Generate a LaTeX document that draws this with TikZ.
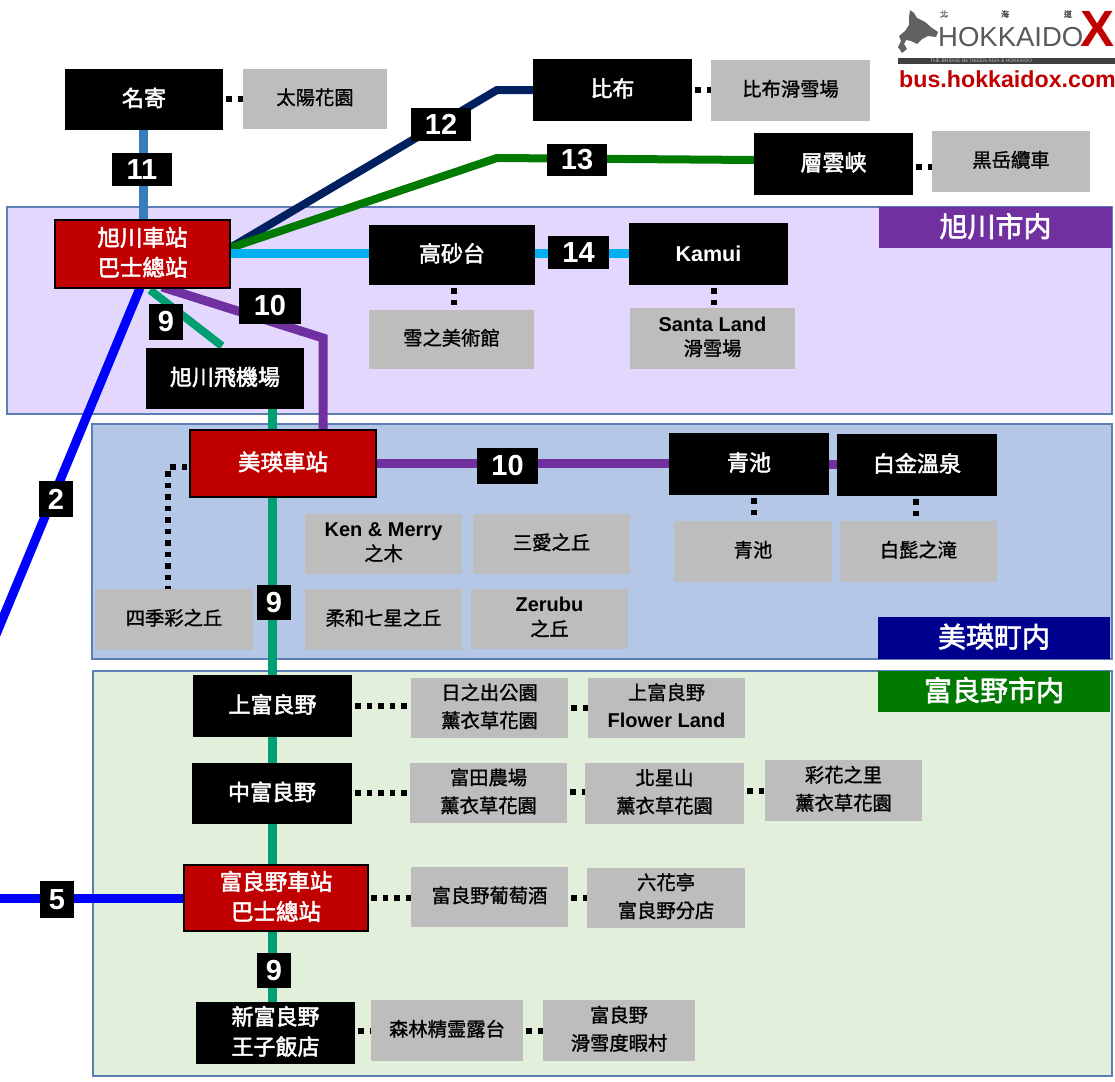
\documentclass[tikz,border=0pt]{standalone}
\usepackage{fontspec}
\setmainfont{Liberation Sans}
\newfontfamily\cj[FakeBold=1.2]{Noto Sans CJK TC}
\newfontfamily\cjw[FakeBold=2.2]{Noto Sans CJK TC}
\usetikzlibrary{calc}
\pgfdeclarelayer{bg}
\pgfdeclarelayer{ln}
\pgfsetlayers{bg,ln,main}
\definecolor{rgPurple}{HTML}{E3D7FE}
\definecolor{rgBlue}{HTML}{B4C7E7}
\definecolor{rgGreen}{HTML}{E2EFDA}
\definecolor{rgEdge}{HTML}{5B7FB5}
\definecolor{stRed}{HTML}{C00000}
\definecolor{grayBox}{HTML}{BDBDBD}
\definecolor{lnPurple}{HTML}{7030A0}
\definecolor{lnNavy}{HTML}{002060}
\definecolor{lnGreen}{HTML}{007A00}
\definecolor{lnSky}{HTML}{00B0F0}
\definecolor{lnSteel}{HTML}{3A7DBD}
\definecolor{lnTeal}{HTML}{009E73}
\definecolor{lnBlue}{HTML}{0000FF}
\definecolor{tagNavy}{HTML}{00008E}
\definecolor{logoRed}{HTML}{C00000}
\tikzset{
  region/.style={draw=rgEdge,line width=1.2pt,inner sep=0pt,outer sep=0pt},
  tagbox/.style={fill=#1,text=white,inner sep=0pt,outer sep=0pt,font=\cjw\fontsize{28}{30}\selectfont},
  blk/.style={fill=black,text=white,inner sep=0pt,outer sep=0pt,align=center,font=\cjw\fontsize{22}{30}\selectfont},
  redb/.style={fill=stRed,draw=black,line width=1.4pt,text=white,inner sep=0pt,outer sep=0pt,align=center,font=\cjw\fontsize{22.5}{30}\selectfont},
  gry/.style={fill=grayBox,text=black,inner sep=0pt,outer sep=0pt,align=center,font=\cj\fontsize{19.3}{28}\selectfont},
  num/.style={fill=black,text=white,inner sep=0pt,outer sep=0pt,font=\bfseries\fontsize{29}{30}\selectfont},
  line/.style={line width=#1,line join=miter},
  dots/.style={line width=5.5pt,black,dash pattern=on 5.5pt off 6pt,dash phase=8.5pt},
}
\newcommand{\bx}[7]{\node[#2,minimum width={(#5-#3)*1pt},minimum height={(#6-#4)*1pt}] (#1) at ({(#3+#5)/2},{(#4+#6)/2}) {#7};}
% same box, with the text lifted a little off the box centre
\newcommand{\bt}[7]{\bx{#1}{#2}{#3}{#4}{#5}{#6}{#7\rule[-5pt]{0pt}{0pt}}}
\newcommand{\lat}[1]{{\normalfont\bfseries\fontsize{20}{28}\selectfont #1}}
\newcommand{\latd}[1]{\raisebox{-3.5pt}{\lat{#1}}}
\begin{document}
\begin{tikzpicture}[x=1pt,y=-1pt]
\useasboundingbox (0,0) rectangle (1115,1081);
\begin{pgfonlayer}{bg}
\fill[white] (0,0) rectangle (1115,1081);
\bx{rA}{region,fill=rgPurple}{7}{207}{1112}{414}{}
\bx{rB}{region,fill=rgBlue}{92}{424}{1112}{659}{}
\bx{rC}{region,fill=rgGreen}{93}{671}{1112}{1076}{}
\end{pgfonlayer}
\bt{tA}{tagbox=lnPurple}{879}{207}{1112}{248}{旭川市内}
\bt{tB}{tagbox=tagNavy}{878}{617}{1110}{659}{美瑛町内}
\bt{tC}{tagbox=lnGreen}{878}{671}{1110}{712}{富良野市内}
% free ends and bends
\coordinate (c2) at (-5,637);
\coordinate (c5) at (-5,898);
\coordinate (b12) at (497,90);
\coordinate (b13) at (497,158);
\coordinate (b10) at (323,338);
\coordinate (bS) at (168,467);
% stations
\bt{nayoro}{blk}{65}{69}{223}{130}{名寄}
\bt{asahi}{redb}{55}{220}{230}{288}{旭川車站\\巴士總站}
\bt{pippu}{blk}{533}{59}{692}{121}{比布}
\bt{sounkyo}{blk}{754}{133}{913}{195}{層雲峡}
\bt{takasago}{blk}{369}{225}{535}{285}{高砂台}
\bx{kamui}{blk}{629}{223}{788}{285}{{\normalfont\bfseries\fontsize{21.5}{28}\selectfont Kamui}}
\bt{airport}{blk}{146}{348}{304}{409}{旭川飛機場}
\bt{biei}{redb}{190}{430}{376}{497}{美瑛車站}
\bt{aoike}{blk}{669}{433}{829}{495}{青池}
\bt{shirogane}{blk}{837}{434}{997}{496}{白金溫泉}
\bt{kamifu}{blk}{193}{675}{352}{737}{上富良野}
\bt{nakafu}{blk}{192}{763}{352}{824}{中富良野}
\bt{furano}{redb}{184}{865}{368}{931}{富良野車站\\巴士總站}
\bt{shinfu}{blk}{196}{1002}{355}{1064}{新富良野\\王子飯店}
% attractions
\bt{gTaiyo}{gry}{243}{69}{387}{129}{太陽花園}
\bt{gPippu}{gry}{711}{60}{870}{121}{比布滑雪場}
\bt{gKuro}{gry}{932}{131}{1090}{192}{黒岳纜車}
\bt{gYuki}{gry}{369}{310}{534}{369}{雪之美術館}
\bt{gSanta}{gry}{630}{308}{795}{369}{\latd{Santa Land}\\滑雪場}
\bt{gAoike}{gry}{674}{521}{832}{582}{青池}
\bt{gShira}{gry}{840}{521}{997}{582}{白髭之滝}
\bt{gKen}{gry}{305}{514}{462}{574}{\latd{Ken \& Merry}\\之木}
\bt{gSanai}{gry}{473}{514}{630}{574}{三愛之丘}
\bt{gNana}{gry}{305}{589}{462}{650}{柔和七星之丘}
\bt{gZeru}{gry}{471}{589}{628}{649}{\latd{Zerubu}\\之丘}
\bt{gShiki}{gry}{95}{589}{253}{650}{四季彩之丘}
\bt{gHino}{gry}{411}{678}{568}{738}{日之出公園\\薰衣草花園}
\bt{gFlower}{gry}{588}{678}{745}{738}{上富良野\\\lat{Flower Land}}
\bt{gTomita}{gry}{410}{763}{567}{823}{富田農場\\薰衣草花園}
\bt{gHoku}{gry}{585}{763}{744}{824}{北星山\\薰衣草花園}
\bt{gSai}{gry}{765}{760}{922}{821}{彩花之里\\薰衣草花園}
\bt{gWine}{gry}{411}{867}{568}{927}{富良野葡萄酒}
\bt{gRokka}{gry}{587}{868}{745}{928}{六花亭\\富良野分店}
\bt{gShin}{gry}{371}{1000}{523}{1061}{森林精霊露台}
\bt{gSki}{gry}{543}{1000}{695}{1061}{富良野\\滑雪度暇村}
% route numbers
\bx{n11}{num}{112}{153}{172}{186}{11}
\bx{n12}{num}{411}{108}{471}{141}{12}
\bx{n13}{num}{547}{144}{607}{176}{13}
\bx{n14}{num}{548}{236}{609}{269}{14}
\bx{n10a}{num}{239}{288}{301}{324}{10}
\bx{n9a}{num}{149}{304}{183}{340}{9}
\bx{n2}{num}{39}{481}{73}{517}{2}
\bx{n10b}{num}{477}{448}{538}{484}{10}
\bx{n9b}{num}{257}{585}{291}{620}{9}
\bx{n5}{num}{40}{881}{74}{918}{5}
\bx{n9c}{num}{257}{953}{291}{988}{9}
% connectors
\begin{pgfonlayer}{ln}
\draw[line=9pt,lnSteel] (nayoro.south -| 143,0) -- (asahi.north -| 143,0);
\draw[line=8pt,lnNavy] ($(asahi.east)+(0,-6)$) -- (b12) -- (pippu.west |- b12);
\draw[line=8pt,lnGreen] ($(asahi.east)+(0,-6)$) -- (b13) -- (sounkyo.west |- 0,160);
\draw[line=9pt,lnSky] (asahi.east |- 0,253) -- (takasago.west |- 0,253);
\draw[line=9pt,lnSky] (takasago.east |- 0,253) -- (kamui.west |- 0,253);
\draw[line=9pt,lnBlue] ($(asahi.south)+(-2.5,0)$) -- (c2);
\draw[line=9pt,lnBlue] (c5) -- (furano.west |- c5);
\draw[line=8pt,lnTeal] ($(asahi.south)+(7.5,2)$) -- ($(airport.north)+(-3,-2)$);
\draw[line=9pt,lnPurple] ($(asahi.south)+(19.5,-1)$) -- (b10) -- (b10 |- biei.north);
\draw[line=9pt,lnPurple] (biei.east |- 0,463) -- (aoike.west |- 0,463);
\draw[line=9pt,lnPurple] (aoike.east |- 0,464) -- (shirogane.west |- 0,464);
\draw[line=9pt,lnTeal] (airport.south -| 272,0) -- (biei.north -| 272,0);
\draw[line=9pt,lnTeal] (biei.south -| 272,0) -- (kamifu.north -| 272,0);
\draw[line=9pt,lnTeal] (kamifu.south -| 272,0) -- (nakafu.north -| 272,0);
\draw[line=9pt,lnTeal] (nakafu.south -| 272,0) -- (furano.north -| 272,0);
\draw[line=9pt,lnTeal] (furano.south -| 272,0) -- (shinfu.north -| 272,0);
% dotted links
\draw[dots] (nayoro.east |- 0,99) -- (gTaiyo.west |- 0,99);
\draw[dots] (pippu.east |- 0,90) -- (gPippu.west |- 0,90);
\draw[dots] (sounkyo.east |- 0,167) -- (gKuro.west |- 0,167);
\draw[dots] (takasago.south -| 454,0) -- (gYuki.north -| 454,0);
\draw[dots] (kamui.south -| 714,0) -- (gSanta.north -| 714,0);
\draw[dots] (aoike.south -| 754,0) -- (gAoike.north -| 754,0);
\draw[dots] (shirogane.south -| 916,0) -- (gShira.north -| 916,0);
\draw[dots] (biei.west |- bS) -- (bS) -- (bS |- gShiki.north);
\draw[dots] (kamifu.east |- 0,706) -- (gHino.west |- 0,706);
\draw[dots] (gHino.east |- 0,708) -- (gFlower.west |- 0,708);
\draw[dots] (nakafu.east |- 0,793) -- (gTomita.west |- 0,793);
\draw[dots] (gTomita.east |- 0,792) -- (gHoku.west |- 0,792);
\draw[dots] (gHoku.east |- 0,791) -- (gSai.west |- 0,791);
\draw[dots] (furano.east |- 0,898) -- (gWine.west |- 0,898);
\draw[dots] (gWine.east |- 0,898) -- (gRokka.west |- 0,898);
\draw[dots] (shinfu.east |- 0,1031) -- (gShin.west |- 0,1031);
\draw[dots] (gShin.east |- 0,1031) -- (gSki.west |- 0,1031);
\end{pgfonlayer}
% logo
\fill[black!62] (910,10) -- (914,13) -- (917,18) -- (925,22) -- (932,28) -- (938,32) -- (936,37) -- (928,36) -- (922,39) -- (917,44) -- (911,41) -- (906,40) -- (904,44) -- (907,49) -- (902,53) -- (898,47) -- (901,41) -- (899,36) -- (905,31) -- (909,25) -- (909,17) -- cycle;
\node[inner sep=0pt,text=black!65,anchor=base west,font=\fontsize{27.5}{28}\selectfont] (logoT) at (938,46) {HOKKAIDO};
\node[inner sep=0pt,text=logoRed,anchor=base west,font=\bfseries\fontsize{51}{50}\selectfont] (logoX) at (1080,47) {X};
\node[inner sep=0pt,text=black!70,font=\cj\fontsize{8}{9}\selectfont] (l1) at (944,14) {北};
\node[inner sep=0pt,text=black!70,font=\cj\fontsize{8}{9}\selectfont] (l2) at (1005,14) {海};
\node[inner sep=0pt,text=black!70,font=\cj\fontsize{8}{9}\selectfont] (l3) at (1068,14) {道};
\fill[black!75] (898,58) rectangle (1115,64);
\node[inner sep=0pt,text=white!75!black,font=\fontsize{5}{6}\selectfont,anchor=west] (l4) at (930,61) {THE BRIDGE BETWEEN ASIA \& HOKKAIDO};
\node[inner sep=0pt,text=logoRed,anchor=base west,font=\bfseries\fontsize{23.2}{24}\selectfont] (l5) at (899,87) {bus.hokkaidox.com};
\end{tikzpicture}
\end{document}
